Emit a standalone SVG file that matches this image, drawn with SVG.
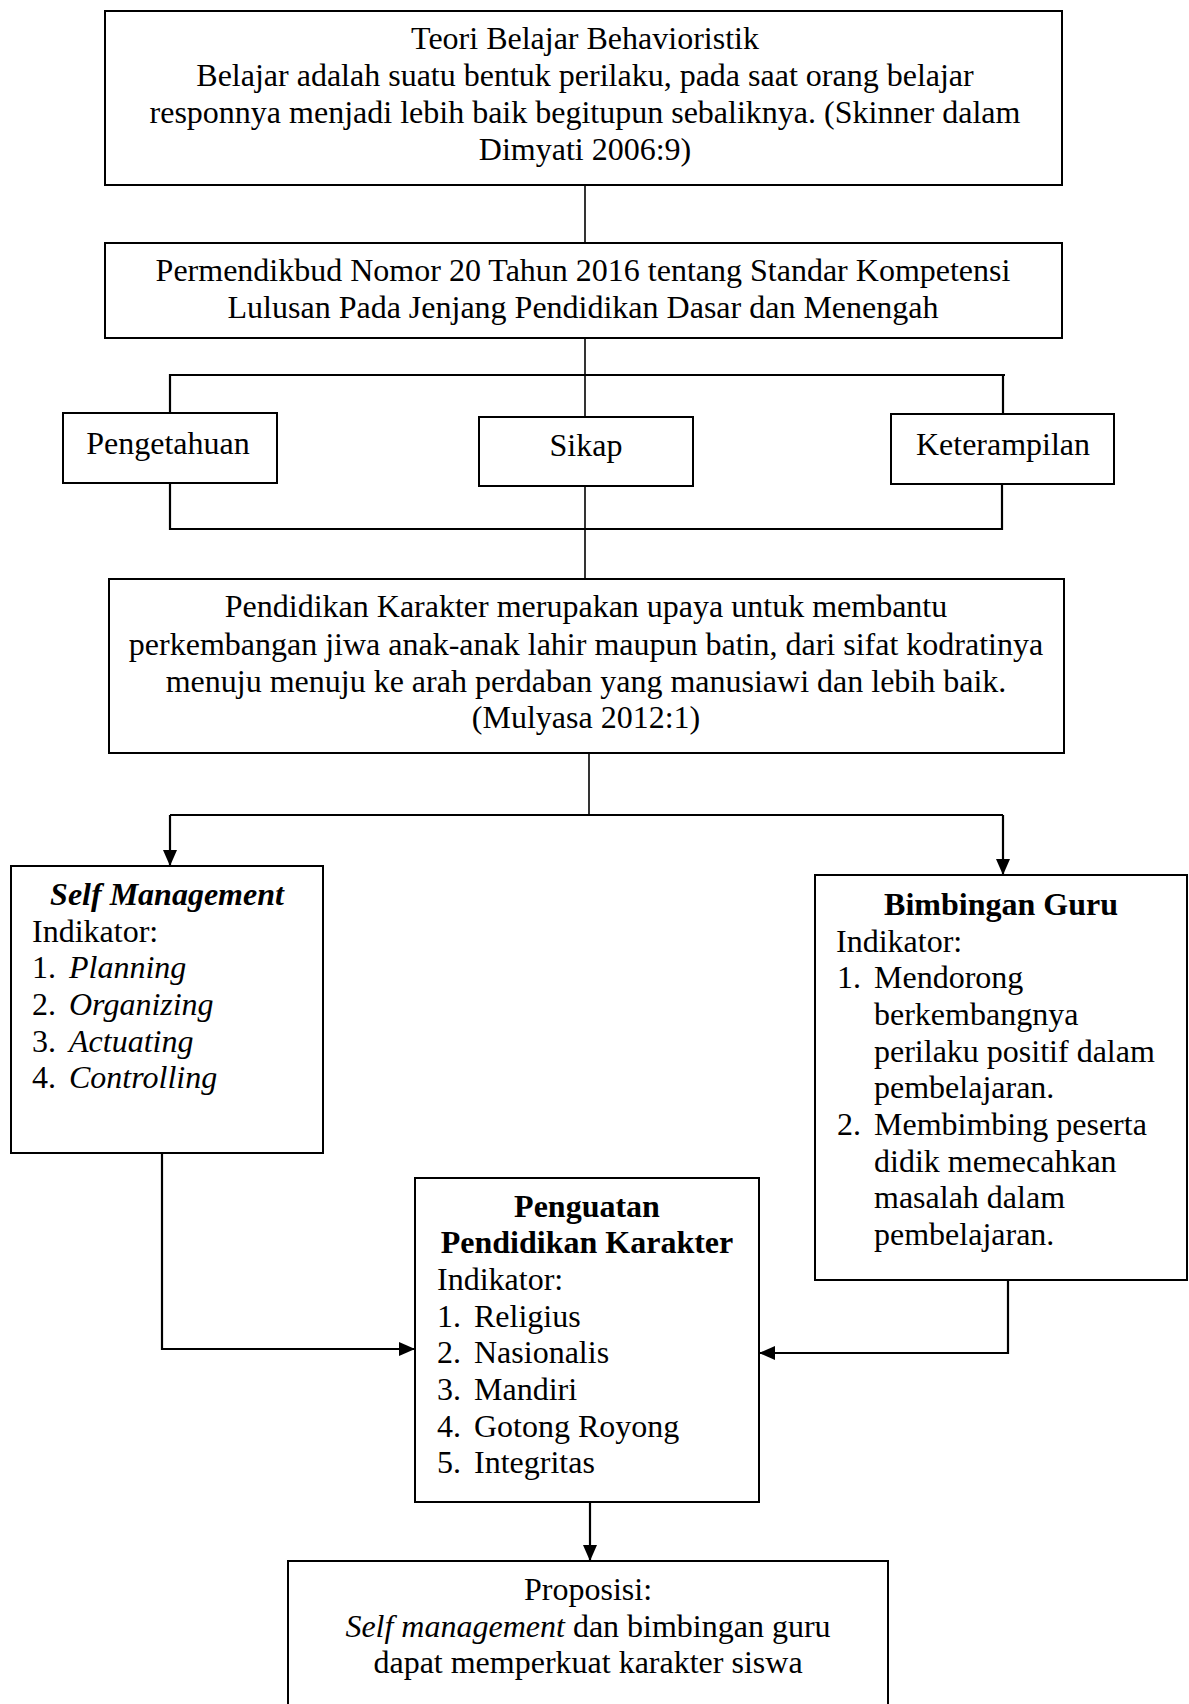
<svg xmlns="http://www.w3.org/2000/svg" width="1189" height="1704" viewBox="0 0 1189 1704">
<defs>
<style>
text{font-family:"Liberation Serif","Times New Roman",serif;font-size:32px;fill:#000}
.c{text-anchor:middle}
.b{font-weight:bold}
.i{font-style:italic}
.box{fill:#fff;stroke:#000;stroke-width:2}
.ln{fill:none;stroke:#000;stroke-width:1.6}
.ar{fill:none;stroke:#000;stroke-width:2.2}
</style>
<marker id="ah" markerUnits="userSpaceOnUse" viewBox="0 0 16 14" markerWidth="16" markerHeight="14" refX="16" refY="7" orient="auto">
<path d="M0,0 L16,7 L0,14 z" fill="#000"/>
</marker>
</defs>
<rect width="1189" height="1704" fill="#fff"/>
<g id="connectors">
<line class="ln" x1="585" y1="185" x2="585" y2="242"/>
<line class="ln" x1="585" y1="338" x2="585" y2="417"/>
<polyline class="ar" points="170,413 170,375 1005,375"/>
<line class="ar" x1="1003" y1="375" x2="1003" y2="414"/>
<polyline class="ar" points="170,483 170,529 1002,529 1002,484"/>
<line class="ln" x1="585" y1="486" x2="585" y2="579"/>
<line class="ln" x1="589" y1="753" x2="589" y2="815"/>
<line class="ar" x1="170" y1="815" x2="1003" y2="815"/>
<line class="ar" x1="170" y1="815" x2="170" y2="866" marker-end="url(#ah)"/>
<line class="ar" x1="1003" y1="815" x2="1003" y2="875" marker-end="url(#ah)"/>
<polyline class="ar" points="162,1153 162,1349 415,1349" marker-end="url(#ah)"/>
<polyline class="ar" points="1008,1280 1008,1353 759,1353" marker-end="url(#ah)"/>
<line class="ar" x1="590" y1="1502" x2="590" y2="1561" marker-end="url(#ah)"/>
</g>
<g id="teori">
<rect class="box" x="105" y="11" width="957" height="174"/>
<text class="c" x="585" y="49">Teori Belajar Behavioristik</text>
<text class="c" x="585" y="86">Belajar adalah suatu bentuk perilaku, pada saat orang belajar</text>
<text class="c" x="585" y="123">responnya menjadi lebih baik begitupun sebaliknya. (Skinner dalam</text>
<text class="c" x="585" y="160">Dimyati 2006:9)</text>
</g>
<g id="permendikbud">
<rect class="box" x="105" y="243" width="957" height="95"/>
<text class="c" x="583" y="281">Permendikbud Nomor 20 Tahun 2016 tentang Standar Kompetensi</text>
<text class="c" x="583" y="318">Lulusan Pada Jenjang Pendidikan Dasar dan Menengah</text>
</g>
<g id="pengetahuan">
<rect class="box" x="63" y="413" width="214" height="70"/>
<text class="c" x="168" y="454">Pengetahuan</text>
</g>
<g id="sikap">
<rect class="box" x="479" y="417" width="214" height="69"/>
<text class="c" x="586" y="456">Sikap</text>
</g>
<g id="keterampilan">
<rect class="box" x="891" y="414" width="223" height="70"/>
<text class="c" x="1003" y="455">Keterampilan</text>
</g>
<g id="pendidikan-karakter">
<rect class="box" x="109" y="579" width="955" height="174"/>
<text class="c" x="586" y="617">Pendidikan Karakter merupakan upaya untuk membantu</text>
<text class="c" x="586" y="655">perkembangan jiwa anak-anak lahir maupun batin, dari sifat kodratinya</text>
<text class="c" x="586" y="692">menuju menuju ke arah perdaban yang manusiawi dan lebih baik.</text>
<text class="c" x="586" y="728">(Mulyasa 2012:1)</text>
</g>
<g id="self-management">
<rect class="box" x="11" y="866" width="312" height="287"/>
<text class="c b i" x="167" y="905">Self Management</text>
<text x="32" y="942">Indikator:</text>
<text x="32" y="978">1.</text><text class="i" x="69" y="978">Planning</text>
<text x="32" y="1015">2.</text><text class="i" x="69" y="1015">Organizing</text>
<text x="32" y="1052">3.</text><text class="i" x="69" y="1052">Actuating</text>
<text x="32" y="1088">4.</text><text class="i" x="69" y="1088">Controlling</text>
</g>
<g id="bimbingan-guru">
<rect class="box" x="815" y="875" width="372" height="405"/>
<text class="c b" x="1001" y="915">Bimbingan Guru</text>
<text x="836" y="952">Indikator:</text>
<text x="837" y="988">1.</text><text x="874" y="988">Mendorong</text>
<text x="874" y="1025">berkembangnya</text>
<text x="874" y="1062">perilaku positif dalam</text>
<text x="874" y="1098">pembelajaran.</text>
<text x="837" y="1135">2.</text><text x="874" y="1135">Membimbing peserta</text>
<text x="874" y="1172">didik memecahkan</text>
<text x="874" y="1208">masalah dalam</text>
<text x="874" y="1245">pembelajaran.</text>
</g>
<g id="ppk">
<rect class="box" x="415" y="1178" width="344" height="324"/>
<text class="c b" x="587" y="1217">Penguatan</text>
<text class="c b" x="587" y="1253">Pendidikan Karakter</text>
<text x="437" y="1290">Indikator:</text>
<text x="437" y="1327">1.</text><text x="474" y="1327">Religius</text>
<text x="437" y="1363">2.</text><text x="474" y="1363">Nasionalis</text>
<text x="437" y="1400">3.</text><text x="474" y="1400">Mandiri</text>
<text x="437" y="1437">4.</text><text x="474" y="1437">Gotong Royong</text>
<text x="437" y="1473">5.</text><text x="474" y="1473">Integritas</text>
</g>
<g id="proposisi">
<rect class="box" x="288" y="1561" width="600" height="160"/>
<text class="c" x="588" y="1600">Proposisi:</text>
<text class="c" x="588" y="1637"><tspan class="i">Self management</tspan> dan bimbingan guru</text>
<text class="c" x="588" y="1673">dapat memperkuat karakter siswa</text>
</g>
</svg>
